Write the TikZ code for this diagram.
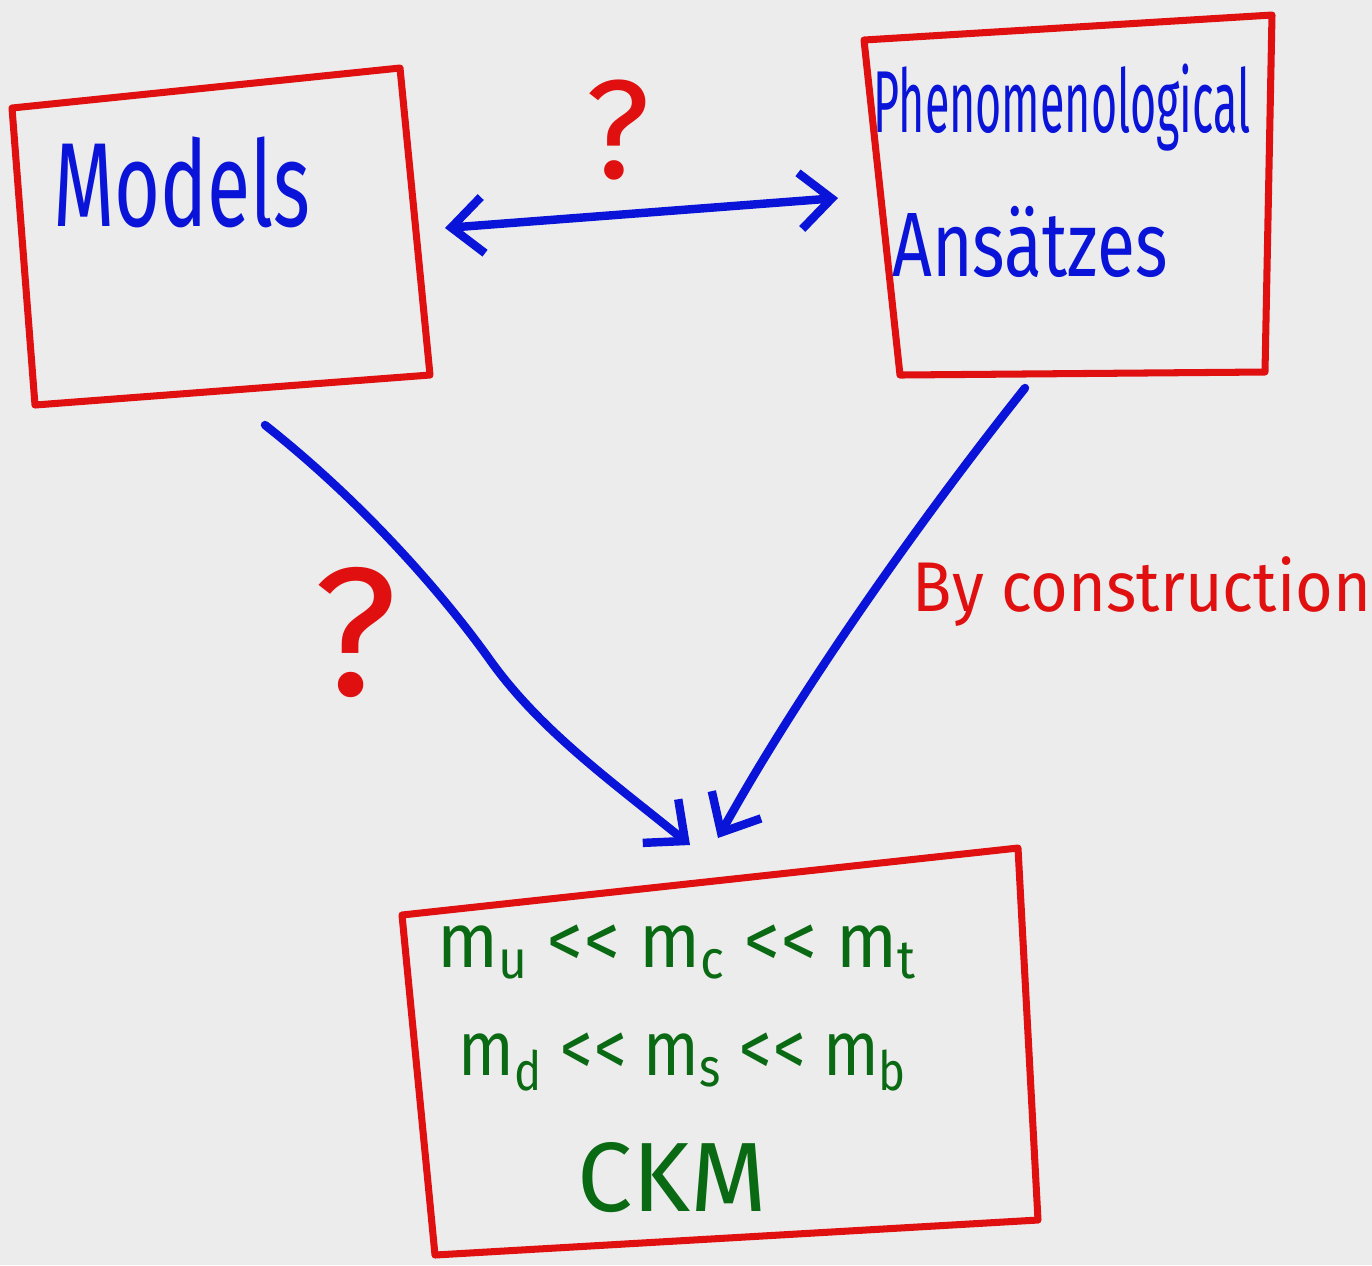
\documentclass[tikz,border=0pt]{standalone}
\usepackage{fontspec}
\setmainfont{Fira Sans}
\usetikzlibrary{arrows.meta}
\definecolor{pen}{HTML}{0A14D8}
\definecolor{redpen}{HTML}{E01010}
\definecolor{greenpen}{HTML}{0A6A14}
\definecolor{paper}{HTML}{ECECEC}
\newcommand{\llsym}{<\kern0.02em<}
\tikzset{
  barbtip/.tip={Straight Barb[length=9pt,width=16pt,line width=2.4pt]},
  boxline/.style={draw=redpen, line width=2pt, line join=round, line cap=round},
  arrowline/.style={draw=pen, line width=2.4pt, line cap=round, -barbtip},
  bluetext/.style={text=pen, inner sep=0pt},
  redtext/.style={text=redpen, inner sep=0pt},
  greentext/.style={text=greenpen, inner sep=0pt},
}
\begin{document}
\begin{tikzpicture}[x=0.01cm,y=-0.01cm]
\fill[paper] (0,0) rectangle (1372,1265);
\useasboundingbox (0,0) rectangle (1372,1265);
% corners
\coordinate (m1) at (12,108); \coordinate (m2) at (400,68);
\coordinate (m3) at (430,375); \coordinate (m4) at (35,405);
\coordinate (p1) at (864,40); \coordinate (p2) at (1272,15);
\coordinate (p3) at (1265,372); \coordinate (p4) at (900,375);
\coordinate (c1) at (402,915); \coordinate (c2) at (1018,848);
\coordinate (c3) at (1038,1220); \coordinate (c4) at (435,1255);
\draw[boxline] (m1) -- (m2) -- (m3) -- (m4) -- cycle;
\draw[boxline] (p1) -- (p2) -- (p3) -- (p4) -- cycle;
\draw[boxline] (c1) -- (c2) -- (c3) -- (c4) -- cycle;
% texts
\node[bluetext] (models) at (182,182) {\fontsize{34}{40}\selectfont\scalebox{0.66}[1]{Models}};
\node[bluetext] (pheno) at (1062,108) {\fontsize{25}{30}\selectfont\scalebox{0.51}[1]{Phenomenological}};
\node[bluetext] (ans) at (1030,242) {\fontsize{26}{30}\selectfont\scalebox{0.76}[1]{Ansätzes}};
\node[redtext] (q1) at (618,130) {\fontsize{40}{44}\selectfont ?};
\node[redtext] (q2) at (355,632) {\fontsize{52}{56}\selectfont ?};
\node[redtext] (bycon) at (1142,592) {\fontsize{20}{24}\selectfont\scalebox{0.92}[1]{By construction}};
\node[greentext] (l1) at (677,952) {\fontsize{22}{26}\selectfont\scalebox{0.92}[1]{m\textsubscript{u} \llsym{} m\textsubscript{c} \llsym{} m\textsubscript{t}}};
\node[greentext] (l2) at (683,1062) {\fontsize{22}{26}\selectfont\scalebox{0.84}[1]{m\textsubscript{d} \llsym{} m\textsubscript{s} \llsym{} m\textsubscript{b}}};
\node[greentext] (l3) at (672,1178) {\fontsize{28}{32}\selectfont CKM};
% connector ends
\coordinate (da) at (445,228); \coordinate (db) at (838,198);
\coordinate (la) at (265,425); \coordinate (lb) at (690,845);
\coordinate (ra) at (1025,388); \coordinate (rb) at (718,838);
\draw[arrowline, barbtip-barbtip] (da) -- (db);
\draw[arrowline] (la) .. controls (360,500) and (440,590) .. (490,660) .. controls (540,730) and (610,780) .. (lb);
\draw[arrowline] (ra) .. controls (920,520) and (800,690) .. (rb);
\end{tikzpicture}
\end{document}
